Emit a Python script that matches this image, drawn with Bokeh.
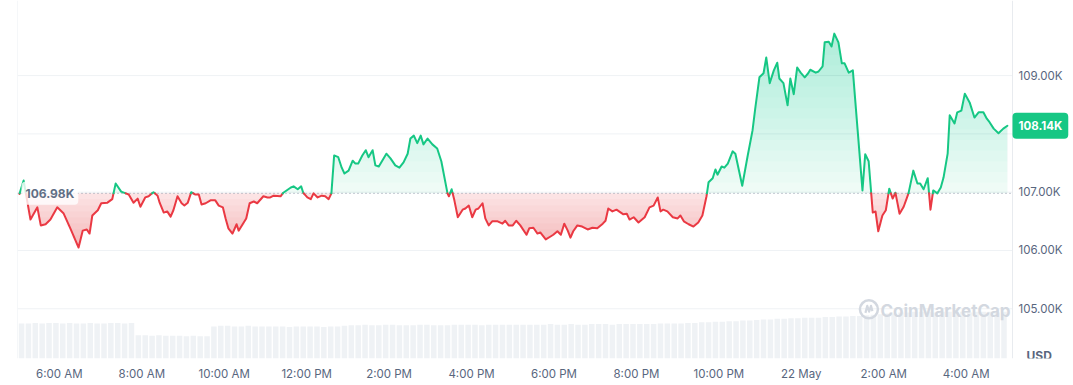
import numpy as np
from bokeh.plotting import figure
from bokeh.models import Range1d, FixedTicker, Span, Label
from bokeh.embed import file_html
from bokeh.resources import INLINE

# ---------------- data ----------------
# minutes after 05:00 AM (21 May) and BTC price in thousands of USD
minutes = [2,8,18,28,33,40,47,57,66,76,
           88,94,100,104,108,116,121,130,137,142,
           150,161,168,174,178,185,190,197,203,206,
           212,217,222,226,232,238,242,247,252,258,
           263,267,273,280,287,292,298,302,306,312,
           318,321,332,337,343,348,357,363,367,372,
           382,386,397,401,407,412,415,421,426,430,
           436,442,447,452,456,460,466,471,475,481,
           487,491,495,501,506,510,516,520,525,530,
           536,542,549,555,561,567,571,576,581,586,
           590,596,603,610,616,625,627,631,635,640,
           647,651,656,661,666,670,676,680,685,690,
           698,705,709,714,720,725,731,740,744,750,
           756,760,768,775,779,785,790,795,800,804,
           808,814,821,829,836,843,851,855,859,865,
           871,881,886,890,896,903,912,919,925,931,
           935,939,945,953,960,964,969,976,983,990,
           996,1002,1005,1011,1015,1018,1024,1028,1033,1040,
           1044,1054,1062,1069,1073,1079,1085,1089,1094,1100,
           1105,1108,1114,1120,1124,1129,1134,1139,1145,1150,
           1153,1161,1165,1171,1174,1180,1184,1188,1194,1199,
           1203,1209,1215,1222,1229,1233,1238,1244,1248,1252,
           1258,1263,1268,1273,1277,1283,1289,1296,1303,1309,
           1313,1318,1324,1328,1332,1338,1343,1347,1353,1356,
           1363,1367,1373,1378,1385,1392,1398,1405,1410,1414,
           1420,1427,1434,1440]

price_k = [106.97,107.20,106.53,106.74,106.43,106.45,106.53,106.74,106.64,106.38,
           106.05,106.34,106.36,106.29,106.60,106.69,106.81,106.82,106.88,107.15,
           107.01,106.96,106.82,106.89,106.75,106.91,106.93,107.00,106.94,106.82,
           106.65,106.67,106.58,106.69,106.93,106.81,106.77,106.82,107.00,106.96,
           106.96,106.79,106.81,106.86,106.86,106.77,106.74,106.55,106.38,106.29,
           106.45,106.34,106.55,106.81,106.84,106.81,106.93,106.91,106.91,106.94,
           106.93,106.99,107.08,107.10,107.05,107.10,106.99,106.91,106.88,106.98,
           106.91,106.94,106.93,106.88,106.98,107.63,107.60,107.42,107.32,107.37,
           107.54,107.49,107.49,107.63,107.72,107.60,107.72,107.46,107.44,107.54,
           107.66,107.58,107.46,107.42,107.51,107.66,107.92,107.97,107.84,107.97,
           107.82,107.92,107.82,107.75,107.53,106.98,106.93,107.05,106.86,106.57,
           106.70,106.72,106.77,106.57,106.70,106.72,106.81,106.55,106.43,106.50,
           106.50,106.46,106.51,106.43,106.43,106.51,106.43,106.27,106.38,106.39,
           106.29,106.31,106.19,106.24,106.27,106.33,106.27,106.46,106.34,106.22,
           106.33,106.43,106.41,106.36,106.39,106.38,106.46,106.51,106.72,106.67,
           106.70,106.62,106.63,106.53,106.57,106.48,106.57,106.74,106.77,106.91,
           106.67,106.70,106.67,106.57,106.55,106.60,106.50,106.45,106.41,106.48,
           106.60,106.93,107.17,107.24,107.39,107.30,107.44,107.42,107.49,107.70,
           107.66,107.11,107.63,108.06,108.44,108.97,109.04,109.31,108.87,109.09,
           109.22,108.95,108.87,108.49,108.95,108.68,109.14,109.05,108.97,109.04,
           109.10,109.05,109.07,109.16,109.57,109.58,109.50,109.72,109.57,109.21,
           109.21,109.05,109.09,108.06,107.03,107.65,107.53,106.65,106.67,106.33,
           106.60,106.69,107.06,106.89,106.99,106.63,106.75,106.98,107.37,107.15,
           107.15,107.05,107.24,106.70,107.03,106.98,107.08,107.25,107.66,108.32,
           108.18,108.37,108.40,108.69,108.54,108.28,108.37,108.37,108.26,108.20,
           108.09,108.01,108.09,108.14]

base_price_k = 106.98
last_price_k = 108.14

# 24h volume, one bar per 10 minutes (USD billions)
volume_b = [60,60,61,60,61,61,60,61,60,60,61,60,60,61,61,60,61,
            40,40,39,40,39,39,39,38,39,38,38,
            55,56,56,55,55,56,55,55,55,55,55,54,55,55,55,55,54,55,55,56,
            57,57,58,57,57,58,58,57,57,57,58,58,57,57,57,58,58,58,58,57,58,58,58,58,58,58,
            58,58,58,59,58,58,59,58,58,59,59,59,58,59,59,59,59,59,59,60,60,60,60,61,61,62,
            62,63,63,64,64,65,65,66,67,67,
            68,68,69,69,70,70,70,71,71,
            72,72,73,73,74,
            75,76,77,77,
            79,79,80,80,80,79,80,80,80,80,79,80,80,80,79,80]

tick_hours = [6, 8, 10, 12, 14, 16, 18, 20, 22, 24, 26, 28]
tick_labels = ["6:00 AM", "8:00 AM", "10:00 AM", "12:00 PM", "2:00 PM", "4:00 PM",
               "6:00 PM", "8:00 PM", "10:00 PM", "22 May", "2:00 AM", "4:00 AM"]
price_ticks = [105, 106, 107, 108, 109]

assert len(minutes) == len(price_k)

# ---------------- style ----------------
FONT = "Inter"
GREEN = "#16c784"
RED = "#ea3943"
TXT = "#58667e"
GRID = "#eff2f5"
VOLC = "#eff2f5"

START_HOUR = 5.0
X_START, X_AXIS, X_END = 4.985, 29.123, 30.603   # frame left, price-axis line, frame right
Y_START, Y_END = 104.147, 110.288

t = np.array([START_HOUR + m / 60.0 for m in minutes])
pr = np.array(price_k)
base = base_price_k

# insert baseline crossings
xs, ys = [t[0]], [pr[0]]
for i in range(1, len(t)):
    x0, y0, x1, y1 = t[i - 1], pr[i - 1], t[i], pr[i]
    if (y0 - base) * (y1 - base) < 0:
        f = (base - y0) / (y1 - y0)
        xs.append(x0 + f * (x1 - x0))
        ys.append(base)
    xs.append(x1)
    ys.append(y1)
xs = np.array(xs)
ys = np.array(ys)

# runs by side of the baseline
runs_x, runs_y, runs_c = [], [], []
cur_x, cur_y, cur_side = [xs[0]], [ys[0]], None
for j in range(len(xs) - 1):
    side = (ys[j] + ys[j + 1]) / 2.0 >= base
    if cur_side is None or side == cur_side:
        cur_x.append(xs[j + 1]); cur_y.append(ys[j + 1])
        cur_side = side
    else:
        runs_x.append(cur_x); runs_y.append(cur_y); runs_c.append(GREEN if cur_side else RED)
        cur_x, cur_y, cur_side = [xs[j], xs[j + 1]], [ys[j], ys[j + 1]], side
runs_x.append(cur_x); runs_y.append(cur_y); runs_c.append(GREEN if cur_side else RED)

p = figure(width=1073, height=385,
           x_range=Range1d(X_START, X_END), y_range=Range1d(Y_START, Y_END),
           output_backend="svg", toolbar_location=None,
           min_border_left=17, min_border_right=0, min_border_top=0, min_border_bottom=27)
p.outline_line_color = None
p.background_fill_color = "white"
p.border_fill_color = "white"
p.extra_y_ranges = {"vol": Range1d(0, 614)}
p.yaxis.visible = False
p.xgrid.grid_line_color = None
p.ygrid.grid_line_color = None

# horizontal grid lines (up to the price axis)
p.segment(x0=[X_START] * len(price_ticks), x1=[X_AXIS] * len(price_ticks),
          y0=price_ticks, y1=price_ticks, line_color=GRID, line_width=1)

# volume bars
bar_x = [START_HOUR + (10 * i + 5) / 60.0 for i in range(len(volume_b))]
p.vbar(x=bar_x, top=volume_b, bottom=0, width=8 / 60.0, y_range_name="vol",
       fill_color=VOLC, line_color=None)

# green gradient fill
g_top = ys.max()
p.varea(x=xs, y1=base, y2=np.maximum(ys, base), fill_color=GREEN, fill_alpha=0.07)
for L in np.linspace(base, g_top, 16)[1:-1]:
    p.varea(x=xs, y1=L, y2=np.maximum(ys, L), fill_color=GREEN, fill_alpha=0.018)
# red gradient fill
r_bot = ys.min()
p.varea(x=xs, y1=np.minimum(ys, base), y2=base, fill_color=RED, fill_alpha=0.14)
for L in np.linspace(base, r_bot, 10)[1:-1]:
    p.varea(x=xs, y1=np.minimum(ys, L), y2=L, fill_color=RED, fill_alpha=0.03)

# dotted reference line
p.segment(x0=[X_START], x1=[X_AXIS], y0=[base], y1=[base], line_color="#8a93a6",
          line_dash="1 3", line_width=1)

p.multi_line(xs=runs_x, ys=runs_y, line_color=runs_c, line_width=2,
             line_join="round", line_cap="round")

# frame borders
p.add_layout(Span(location=X_START, dimension="height", line_color="#eceff3", line_width=1))
p.add_layout(Span(location=X_AXIS, dimension="height", line_color="#e8ebef", line_width=1))

# price axis labels (drawn inside the frame, right of the axis line)
ylab_y = [v for v in price_ticks if abs(v - last_price_k) >= 0.3]
p.text(x=[X_AXIS] * len(ylab_y), y=ylab_y, text=[f"{v:.2f}K" for v in ylab_y],
       x_offset=6, text_font={"value": FONT}, text_font_size="11.5px",
       text_color=TXT, text_baseline="middle", text_align="left")

# time axis
xa = p.xaxis[0]
xa.ticker = FixedTicker(ticks=tick_hours)
xa.major_label_overrides = {h: lab for h, lab in zip(tick_hours, tick_labels)}
xa.axis_line_color = None
xa.major_tick_line_color = None
xa.minor_tick_line_color = None
xa.major_tick_out = 0
xa.major_tick_in = 0
xa.minor_tick_out = 0
xa.major_label_standoff = 8
xa.major_label_text_font = FONT
xa.major_label_text_font_size = "11.5px"
xa.major_label_text_color = TXT

# labels
p.add_layout(Label(x=X_START, y=base, x_offset=4, text=f"{base_price_k:.2f}K",
                   text_font=FONT, text_font_size="12px", text_font_style="bold",
                   text_color="#616e85",
                   text_baseline="middle", text_align="left",
                   background_fill_color="white", background_fill_alpha=0.8,
                   padding=4, border_radius=4))
p.add_layout(Label(x=X_AXIS, y=last_price_k, x_offset=0, text=f"{last_price_k:.2f}K",
                   text_font=FONT, text_font_size="11.5px", text_font_style="bold",
                   text_color="white", text_baseline="middle", text_align="left",
                   background_fill_color=GREEN, padding=6, border_radius=4))
p.add_layout(Label(x=X_AXIS, y=Y_START, x_offset=14, y_offset=3, text="USD",
                   text_font=FONT, text_font_size="12px", text_font_style="bold",
                   text_color=TXT, text_baseline="middle", text_align="left"))

# watermark
WM = "#d3d8e0"
p.add_layout(Label(x=25.92, y=104.954, text="CoinMarketCap", text_font=FONT,
                   text_font_size="17px", text_font_style="bold", text_color=WM,
                   text_baseline="middle", text_align="left"))
p.scatter(x=[25.64], y=[104.99], marker="circle", size=18, fill_color=None,
          line_color=WM, line_width=2.5)
p.line(x=[25.555, 25.60, 25.645, 25.69, 25.725], y=[104.93, 105.05, 104.95, 105.05, 104.96],
       line_color=WM, line_width=2.2, line_join="round")

open("out.html", "w").write(file_html(p, INLINE))
